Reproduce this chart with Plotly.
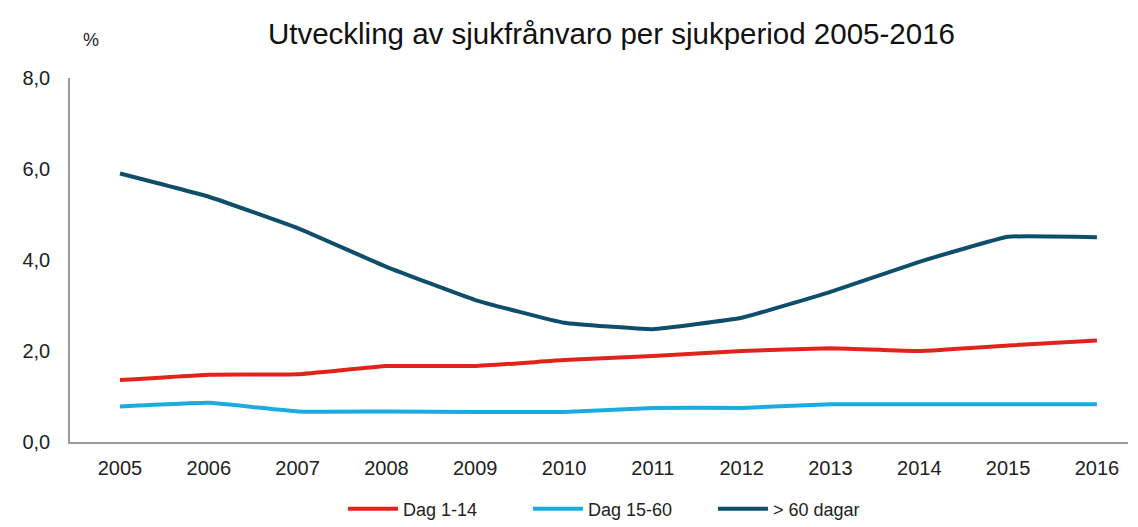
import plotly.graph_objects as go

years = [2005, 2006, 2007, 2008, 2009, 2010, 2011, 2012, 2013, 2014, 2015, 2016]
dag_1_14 = [1.36, 1.48, 1.49, 1.67, 1.67, 1.80, 1.89, 2.00, 2.06, 2.00, 2.12, 2.23]
dag_15_60 = [0.78, 0.86, 0.67, 0.67, 0.66, 0.66, 0.75, 0.75, 0.83, 0.83, 0.83, 0.83]
over_60 = [5.90, 5.39, 4.70, 3.85, 3.12, 2.62, 2.48, 2.73, 3.30, 3.96, 4.51, 4.50]

series_names = ["Dag 1-14", "Dag 15-60", "> 60 dagar"]
colors = ["#E2231A", "#1AACE0", "#0E4E6A"]

fig = go.Figure()
for name, vals, col in zip(series_names, [dag_1_14, dag_15_60, over_60], colors):
    fig.add_trace(go.Scatter(x=years, y=vals, name=name, mode="lines",
                             line=dict(color=col, width=4, shape="spline", smoothing=0.3)))

fig.update_layout(
    width=1130, height=515,
    margin=dict(l=62, r=10, t=70, b=81, autoexpand=False),
    paper_bgcolor="white", plot_bgcolor="white",
    separators=",.",
    font=dict(family="Liberation Sans, Arial, sans-serif", color="#222"),
    title=dict(text="Utveckling av sjukfrånvaro per sjukperiod 2005-2016",
               x=0.534, xanchor="center", y=0.95, yanchor="middle",
               font=dict(size=29.5, color="#111")),
    showlegend=True,
    legend=dict(orientation="h", x=0.258, xanchor="left", yref="container",
                y=0.027, yanchor="middle", font=dict(size=18, color="#222"),
                itemwidth=50, entrywidth=120),
    annotations=[dict(text="%", xref="paper", yref="paper", x=0.02, y=1.104,
                      xanchor="center", yanchor="middle", showarrow=False,
                      font=dict(size=18, color="#222"))],
)
fig.update_xaxes(range=[2005 - 0.563, 2016 + 0.35], tickmode="array", tickvals=years,
                 ticktext=[str(y) for y in years], showgrid=False, zeroline=False,
                 showline=True, linecolor="#999", linewidth=1.5, ticks="",
                 tickfont=dict(size=20, color="#222"), ticklabelstandoff=7,
                 automargin=False)
fig.update_yaxes(range=[0, 8], tickvals=[0, 2, 4, 6, 8], tickformat=".1f",
                 showgrid=False, zeroline=False, showline=True, linecolor="#999",
                 linewidth=1.5, ticks="", tickfont=dict(size=20, color="#222"),
                 ticklabelstandoff=14, automargin=False)

fig.write_html("out.html")
